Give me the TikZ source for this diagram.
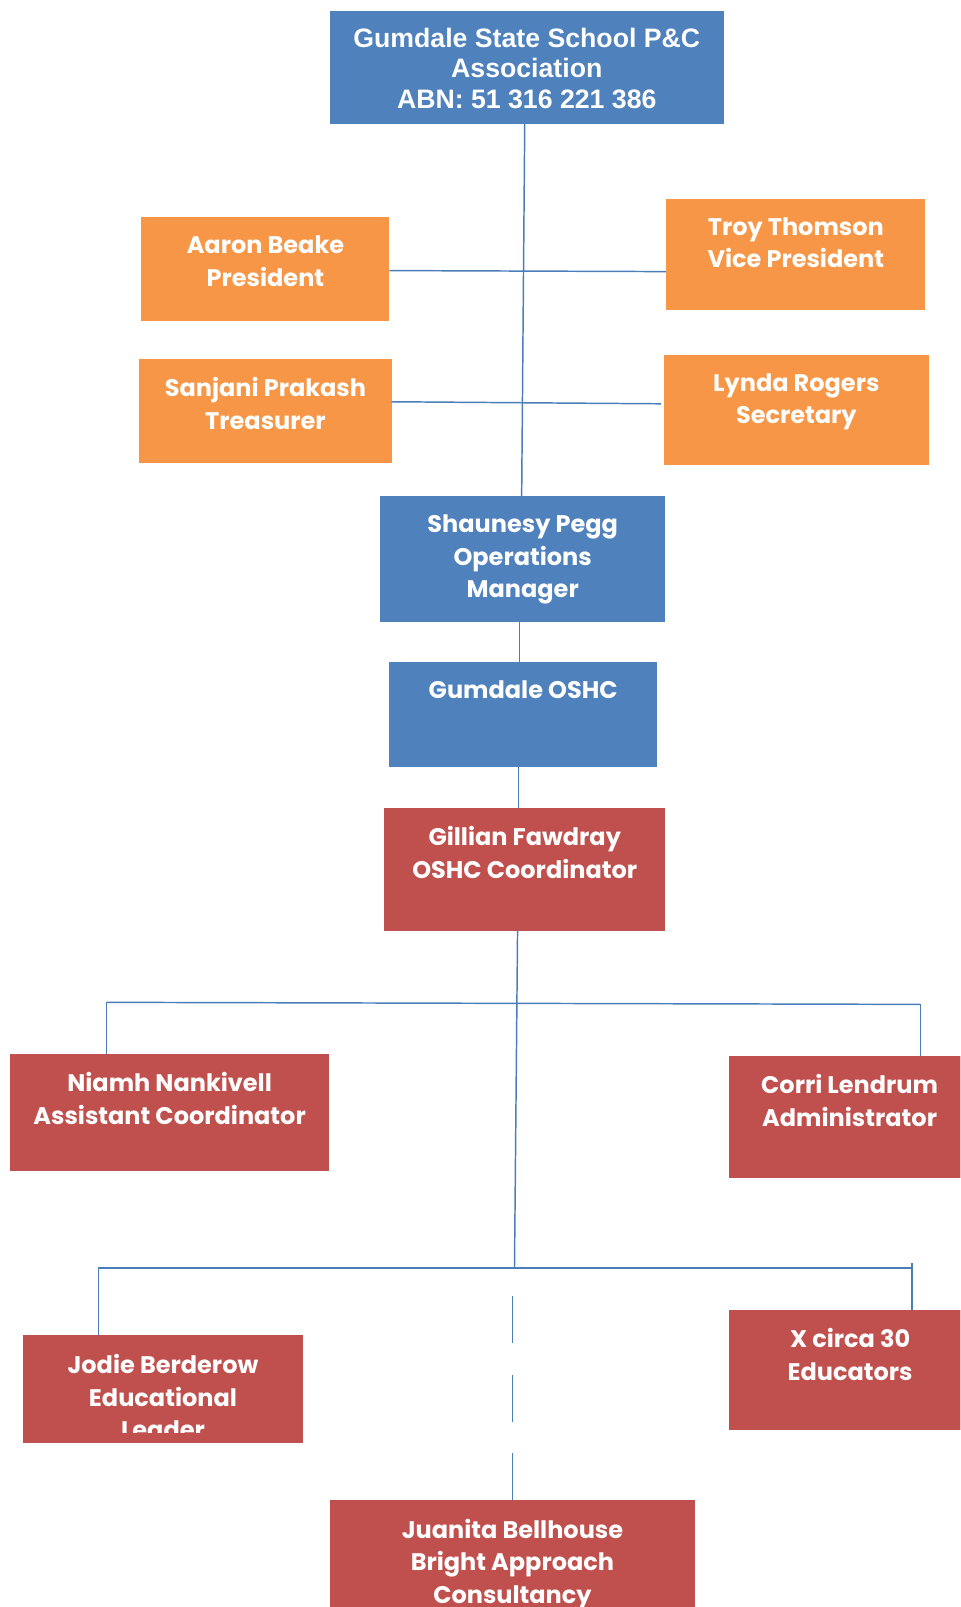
\documentclass[tikz,border=0pt]{standalone}
\usepackage{fontspec}
\setmainfont{Liberation Sans}
\newfontfamily\gothic{Poppins}
\usetikzlibrary{calc}
\definecolor{boxblue}{HTML}{4F81BD}
\definecolor{boxorange}{HTML}{F79646}
\definecolor{boxred}{HTML}{C0504D}
\definecolor{linkblue}{HTML}{4A7EBB}
\newcommand\orgbox[6]{\node[#6, minimum width={(#4-#2)*0.76841pt}, minimum height={(#5-#3)*0.76841pt}] (#1) at (#2,#3) {};}
\begin{document}
\begin{tikzpicture}[x=0.76841pt,y=-0.76841pt,
  box/.style={draw=none, inner sep=0pt, outer sep=0pt, anchor=north west, rectangle},
  bluebox/.style={box, fill=boxblue},
  orangebox/.style={box, fill=boxorange},
  redbox/.style={box, fill=boxred},
  txt/.style={text=white, align=center, anchor=north, inner sep=0pt, font=\gothic\bfseries\fontsize{18}{24.4}\selectfont},
  toptxt/.style={text=white, align=center, anchor=north, inner sep=0pt, font=\bfseries\fontsize{20}{23}\selectfont},
  link/.style={draw=linkblue, line width=1.1pt},
  dashlink/.style={link, dash pattern=on 35.3pt off 23.8pt}
]
\useasboundingbox (0,0) rectangle (937,1568);
\clip (0,0) rectangle (937,1568);

% boxes
\orgbox{top}{322}{11}{706}{121}{bluebox}
\orgbox{aaron}{138}{212}{380}{313}{orangebox}
\orgbox{troy}{650}{194}{903}{302}{orangebox}
\orgbox{sanjani}{136}{350}{382}{452}{orangebox}
\orgbox{lynda}{648}{346}{906}{454}{orangebox}
\orgbox{shaun}{371}{484}{649}{607}{bluebox}
\orgbox{oshc}{380}{646}{641}{748}{bluebox}
\orgbox{gill}{375}{788}{649}{908}{redbox}
\orgbox{niamh}{10}{1028}{321}{1143}{redbox}
\orgbox{corri}{711}{1030}{947}{1149}{redbox}
\orgbox{jodie}{22}{1303}{296}{1408}{redbox}
\orgbox{xc}{711}{1278}{948}{1395}{redbox}
\orgbox{juanita}{322}{1464}{678}{1590}{redbox}

% texts
\node[toptxt] (topt) at ($(top.north)+(0,16)$) {Gumdale State School P\&C\\Association\\ABN: 51 316 221 386};
\node[txt] (aaront) at ($(aaron.north)+(0,18)$) {Aaron Beake\\President};
\node[txt] (troyt) at ($(troy.north)+(0,18)$) {Troy Thomson\\Vice President};
\node[txt] (sanjanit) at ($(sanjani.north)+(0,18)$) {Sanjani Prakash\\Treasurer};
\node[txt] (lyndat) at ($(lynda.north)+(0,18)$) {Lynda Rogers\\Secretary};
\node[txt] (shaunt) at ($(shaun.north)+(0,18)$) {Shaunesy Pegg\\Operations\\Manager};
\node[txt] (oshct) at ($(oshc.north)+(0,18)$) {Gumdale OSHC};
\node[txt] (gillt) at ($(gill.north)+(0,18)$) {Gillian Fawdray\\OSHC Coordinator};
\node[txt] (niamht) at ($(niamh.north)+(0,18)$) {Niamh Nankivell\\Assistant Coordinator};
\node[txt] (corrit) at ($(corri.north)+(0,18)$) {Corri Lendrum\\Administrator};
\begin{scope}
\clip (jodie.north west) rectangle ($(jodie.south east)+(0,-10)$);
\node[txt] (jodiet) at ($(jodie.north)+(0,18.5)$) {Jodie Berderow\\Educational\\Leader};
\end{scope}
\node[txt] (xct) at ($(xc.north)+(0,18)$) {X circa 30\\Educators};
\node[txt] (juanitat) at ($(juanita.north)+(0,18)$) {Juanita Bellhouse\\Bright Approach\\Consultancy};

% coordinates
\coordinate (b1l) at (104,978);
\coordinate (b1r) at (898,980);
\coordinate (b2c) at (502,1237);
\coordinate (b2l) at (96,1237);
\coordinate (b2r) at (890,1237);
\coordinate (b2rt) at (890,1232);

% connectors
\draw[link] ($(top.south)+(-2,0)$) -- ($(shaun.north)+(-1,0)$);
\draw[link] ($(aaron.east)+(0,1.5)$) -- ($(troy.west)+(0,17)$);
\draw[link] ($(sanjani.east)+(0,-9)$) -- ($(lynda.west)+(-3,-6)$);
\draw[link] ($(shaun.south)+(-3,0)$) -- ($(oshc.north)+(-3.5,0)$);
\draw[link] ($(oshc.south)+(-4.5,0)$) -- ($(gill.north)+(-6,0)$);
\draw[link] ($(gill.south)+(-7,0)$) -- (b2c);
\draw[link] (b1l) -- (b1r);
\draw[link] (b1l) -- (niamh.north -| b1l);
\draw[link] (b1r) -- (corri.north -| b1r);
\draw[link] (b2l) -- (b2r);
\draw[link] (b2l) -- (jodie.north -| b2l);
\draw[link] (b2rt) -- (xc.north -| b2rt);
\draw[dashlink] (juanita.north) -- (juanita.north |- b2c);
\end{tikzpicture}
\end{document}
